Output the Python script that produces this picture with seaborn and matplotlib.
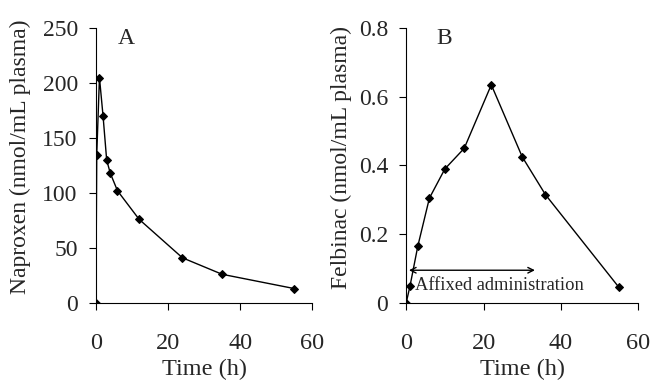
import matplotlib
matplotlib.use("Agg")
import matplotlib.pyplot as plt
import seaborn as sns
import pandas as pd

# Panel A: naproxen
time_a = [0, 0.25, 1, 2, 3, 4, 6, 12, 24, 35, 55]
naproxen = [0, 135, 205, 170, 130, 118, 102, 76, 41, 26, 13]
# Panel B: felbinac
time_b = [0, 1, 3, 6, 10, 15, 22, 30, 36, 55]
felbinac = [0, 0.05, 0.165, 0.305, 0.39, 0.45, 0.635, 0.425, 0.315, 0.045]

xticks = [0, 20, 40, 60]
yticks_a = [0, 50, 100, 150, 200, 250]
yticks_b = [0, 0.2, 0.4, 0.6, 0.8]
ytick_labels_b = ["0", "0.2", "0.4", "0.6", "0.8"]

sns.set_style("ticks")
plt.rcParams["font.family"] = ["Liberation Serif", "DejaVu Serif"]
label_fs = 17.5

fig = plt.figure(figsize=(6.52, 3.8), dpi=100)
axA = fig.add_axes([0.147, 0.203, 0.332, 0.723])
axB = fig.add_axes([0.623, 0.203, 0.356, 0.723])

dfa = pd.DataFrame({"t": time_a, "c": naproxen})
dfb = pd.DataFrame({"t": time_b, "c": felbinac})

for ax, df in ((axA, dfa), (axB, dfb)):
    sns.lineplot(data=df, x="t", y="c", ax=ax, color="black", linewidth=1.0,
                 marker="D", markersize=4, markeredgecolor="black", sort=False)
    sns.despine(ax=ax)
    ax.set_xlim(0, 60)
    ax.set_xticks(xticks)
    ax.set_xlabel("Time (h)", fontsize=label_fs, labelpad=3)
    ax.tick_params(axis="x", labelsize=17.5, direction="out", length=5, width=0.8,
                   color="black", pad=17)
    ax.tick_params(axis="y", labelsize=17, direction="out", length=5, width=0.8,
                   color="black", pad=8)
    for s in ("left", "bottom"):
        ax.spines[s].set_linewidth(0.8)
        ax.spines[s].set_color("black")

axA.set_ylim(0, 250)
axA.set_yticks(yticks_a)
axA.set_ylabel("Naproxen (nmol/mL plasma)", fontsize=17, labelpad=10)
axA.yaxis.set_label_coords(-0.3, 0.53)
axA.text(0.1, 1.0, "A", transform=axA.transAxes, fontsize=17, va="top", ha="left")

axB.set_ylim(0, 0.8)
axB.set_yticks(yticks_b)
axB.set_yticklabels(ytick_labels_b)
axB.set_ylabel("Felbinac (nmol/mL plasma)", fontsize=17, labelpad=3)
axB.yaxis.set_label_coords(-0.232, 0.53)
axB.text(0.13, 1.0, "B", transform=axB.transAxes, fontsize=17, va="top", ha="left")

axB.annotate("", xy=(0, 0.095), xytext=(34, 0.095),
             arrowprops=dict(arrowstyle="<->", color="black", lw=1.0))
axB.text(2.3, 0.05, "Affixed administration", fontsize=13.3, va="center", ha="left")

fig.savefig("out.png", dpi=100)
